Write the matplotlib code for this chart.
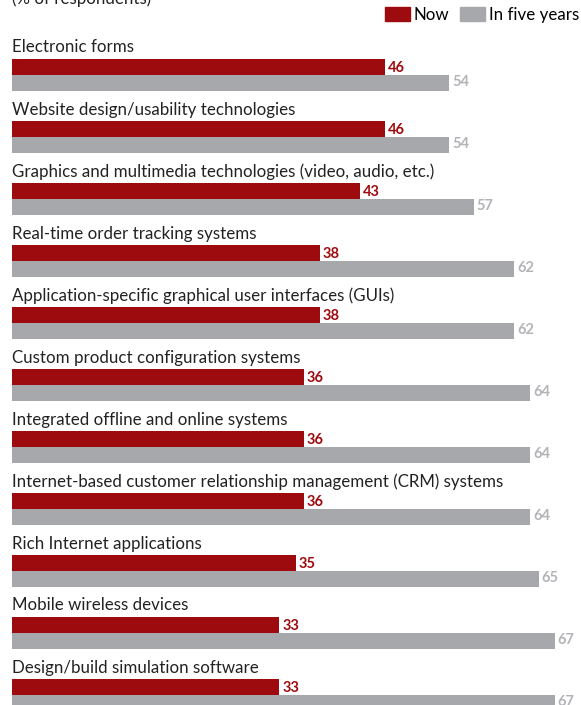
import matplotlib
matplotlib.use("Agg")
import matplotlib.pyplot as plt

categories = [
    "Electronic forms",
    "Website design/usability technologies",
    "Graphics and multimedia technologies (video, audio, etc.)",
    "Real-time order tracking systems",
    "Application-specific graphical user interfaces (GUIs)",
    "Custom product configuration systems",
    "Integrated offline and online systems",
    "Internet-based customer relationship management (CRM) systems",
    "Rich Internet applications",
    "Mobile wireless devices",
    "Design/build simulation software",
]
now = [46, 46, 43, 38, 38, 36, 36, 36, 35, 33, 33]
five_years = [54, 54, 57, 62, 62, 64, 64, 64, 65, 67, 67]

RED = "#9e0b0f"
GREY = "#a7a8ab"
GREY_TXT = "#b3b4b7"

plt.rcParams["font.family"] = ["Lato", "DejaVu Sans"]

W, H = 581, 705
fig = plt.figure(figsize=(W / 100, H / 100), dpi=100)
ax = fig.add_axes([0, 0, 1, 1])
ax.set_xlim(-12 / 8.1, (W - 12) / 8.1)
ax.set_ylim(H, 0)
ax.axis("off")

# size labels so the longest one is ~486 px wide like the original
renderer = fig.canvas.get_renderer()
probe = ax.text(0, 0, max(categories, key=len), fontsize=12)
w = probe.get_window_extent(renderer).width
probe.remove()
fs = 12 * 486 / w

row_h = 62
bar_h = 16
for i, cat in enumerate(categories):
    top = 59 + i * row_h
    ax.text(0, top - 11.5, cat, fontsize=fs, color="#222222", va="center", ha="left")
    ax.barh(top + bar_h / 2, now[i], height=bar_h, left=0, color=RED)
    ax.barh(top + bar_h * 1.5, five_years[i], height=bar_h, left=0, color=GREY)
    ax.text(now[i] + 0.35, top + bar_h / 2 + 1, str(now[i]), fontsize=10.5,
            fontweight="bold", color=RED, va="center", ha="left")
    ax.text(five_years[i] + 0.35, top + bar_h * 1.5 - 1, str(five_years[i]), fontsize=10.5,
            fontweight="bold", color=GREY_TXT, va="center", ha="left")

ax.text(0, -1, "(% of respondents)", fontsize=fs, color="#222222", va="center", ha="left")

# legend
fig.legend(handles=[plt.Rectangle((0, 0), 1, 1, color=RED),
                    plt.Rectangle((0, 0), 1, 1, color=GREY)],
           labels=["Now", "In five years"], loc="center right",
           bbox_to_anchor=(579 / W, 1 - 15 / H), ncol=2, frameon=False, fontsize=fs,
           handlelength=1.5, handleheight=0.85, handletextpad=0.2,
           columnspacing=0.65, borderaxespad=0, borderpad=0)

fig.savefig("out.png", dpi=100)
